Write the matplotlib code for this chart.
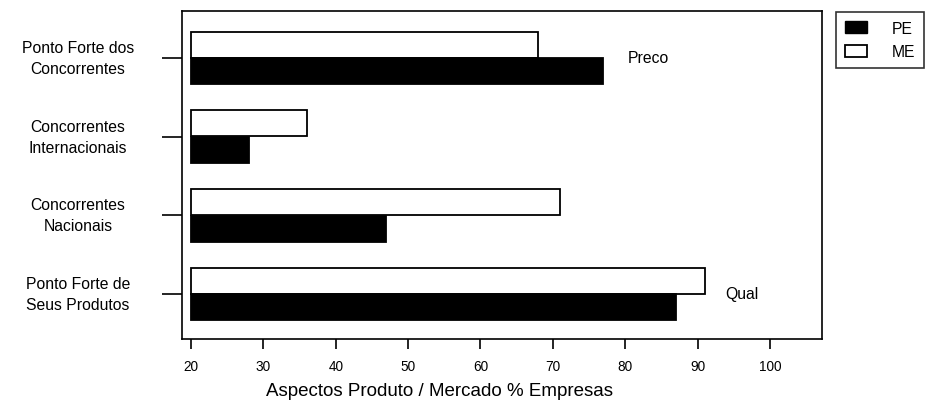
import matplotlib
matplotlib.use("Agg")
import matplotlib.pyplot as plt
from matplotlib.patches import Patch
import matplotlib.transforms as mtransforms
import numpy as np

plt.rcParams['font.family'] = ['Liberation Sans', 'DejaVu Sans']

categories = ["Ponto Forte de\nSeus Produtos", "Concorrentes\nNacionais",
              "Concorrentes\nInternacionais", "Ponto Forte dos\nConcorrentes"]
pe_values = [87, 47, 28, 77]
me_values = [91, 71, 36, 68]
xticks = [20, 30, 40, 50, 60, 70, 80, 90, 100]
base = 20

W, H = 937, 406
fig = plt.figure(figsize=(W / 100, H / 100), dpi=100)
ax = fig.add_axes([182 / W, 1 - 340 / H, (822 - 182) / W, (340 - 12) / H])

y = np.arange(len(categories))
h = 0.33
off = 0.17
ax.barh(y + off, np.array(me_values) - base, left=base, height=h,
        color='white', edgecolor='black', linewidth=1.3)
ax.barh(y - off, np.array(pe_values) - base, left=base, height=h,
        color='black', edgecolor='black', linewidth=1.3)

ax.set_xlim(18.75, 107.2)
ax.set_ylim(-0.572, 3.597)
ax.set_xticks(xticks)
ax.set_xticklabels([str(t) for t in xticks], fontsize=9.8)
ax.set_yticks(y)
ax.set_yticklabels([])
ax.tick_params(axis='y', length=14.5, width=1.2, direction='out')
ax.tick_params(axis='x', length=7.5, width=1.2, direction='out', pad=7)
for s in ax.spines.values():
    s.set_linewidth(1.2)

trans = mtransforms.blended_transform_factory(fig.transFigure, ax.transData)
for yi, lab in zip(y, categories):
    fig.text(78 / W, yi, lab, transform=trans, ha='center', va='center',
             fontsize=11.3, linespacing=1.5)

ax.text(80.4, 3.0, "Preco", fontsize=11.3, va='center', ha='left')
ax.text(93.8, 0.0, "Qual", fontsize=11.3, va='center', ha='left')

fig.text(440 / W, 1 - 392 / H, "Aspectos Produto / Mercado % Empresas",
         ha='center', va='center', fontsize=13.5)

handles = [Patch(facecolor='black', edgecolor='black', label='PE'),
           Patch(facecolor='white', edgecolor='black', linewidth=1.3, label='ME')]
leg = fig.legend(handles=handles, loc='upper left',
                 bbox_to_anchor=(836 / W, 1 - 13 / H), frameon=True,
                 fancybox=False, edgecolor='black', fontsize=11.3,
                 handlelength=1.4, handleheight=0.8, borderpad=0.55,
                 labelspacing=0.55, handletextpad=1.6, borderaxespad=0)
leg.get_frame().set_linewidth(1.2)

fig.savefig("out.png", dpi=100)
